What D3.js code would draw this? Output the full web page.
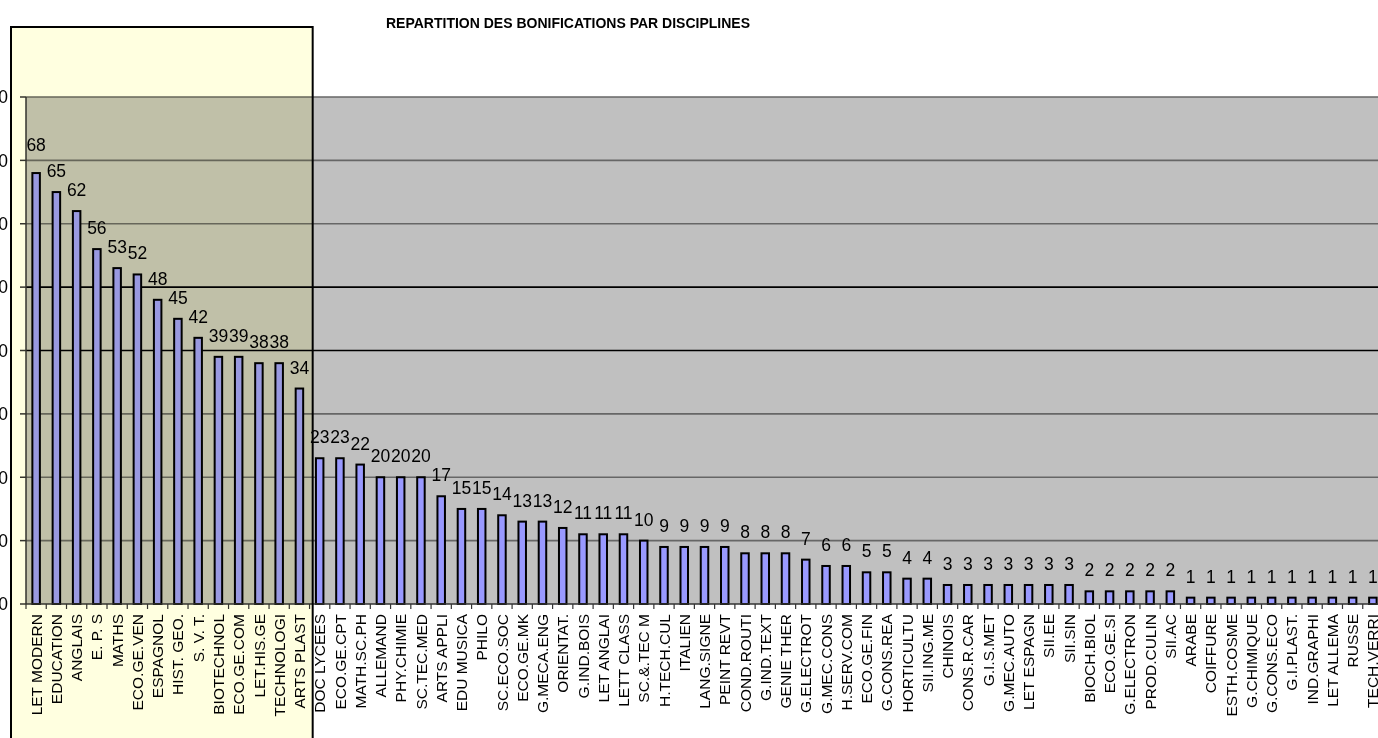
<!DOCTYPE html>
<html>
<head>
<meta charset="utf-8">
<script src="https://cdn.jsdelivr.net/npm/d3@7"></script>
<style>
  body { margin: 0; background: #fff; }
  svg { display: block; font-family: "Liberation Sans", Arial, sans-serif; }
</style>
</head>
<body>
<svg id="chart" width="1378" height="738"></svg>
<script>
"use strict";

var categories = [
  "LET MODERN", "EDUCATION", "ANGLAIS", "E. P. S", "MATHS", "ECO.GE.VEN", "ESPAGNOL",
  "HIST. GEO.", "S. V. T.", "BIOTECHNOL", "ECO.GE.COM", "LET.HIS.GE", "TECHNOLOGI",
  "ARTS PLAST", "DOC LYCEES", "ECO.GE.CPT", "MATH.SC.PH", "ALLEMAND", "PHY.CHIMIE",
  "SC.TEC.MED", "ARTS APPLI", "EDU MUSICA", "PHILO", "SC.ECO.SOC", "ECO.GE.MK",
  "G.MECA.ENG", "ORIENTAT.", "G.IND.BOIS", "LET ANGLAI", "LETT CLASS", "SC.&.TEC M",
  "H.TECH.CUL", "ITALIEN", "LANG.SIGNE", "PEINT REVT", "COND.ROUTI", "G.IND.TEXT",
  "GENIE THER", "G.ELECTROT", "G.MEC.CONS", "H.SERV.COM", "ECO.GE.FIN", "G.CONS.REA",
  "HORTICULTU", "SII.ING.ME", "CHINOIS", "CONS.R.CAR", "G.I.S.MET", "G.MEC.AUTO",
  "LET ESPAGN", "SII.EE", "SII.SIN", "BIOCH.BIOL", "ECO.GE.SI", "G.ELECTRON",
  "PROD.CULIN", "SII.AC", "ARABE", "COIFFURE", "ESTH.COSME", "G.CHIMIQUE",
  "G.CONS.ECO", "G.I.PLAST.", "IND.GRAPHI", "LET ALLEMA", "RUSSE", "TECH.VERRI"
];

var values = [
  68, 65, 62, 56, 53, 52, 48, 45, 42, 39, 39, 38, 38, 34,
  23, 23, 22, 20, 20, 20, 17, 15, 15, 14, 13, 13, 12, 11, 11, 11, 10,
  9, 9, 9, 9, 8, 8, 8, 7, 6, 6, 5, 5, 4, 4,
  3, 3, 3, 3, 3, 3, 3, 2, 2, 2, 2, 2,
  1, 1, 1, 1, 1, 1, 1, 1, 1, 1
];

var yTicks = [0, 10, 20, 30, 40, 50, 60, 70, 80];
var darkGrid = [40, 50];

var title = "REPARTITION DES BONIFICATIONS PAR DISCIPLINES";

// highlighted group: first 14 disciplines
var highlightCount = 14;

(function () {
  var svg = d3.select("#chart");
  var left = 26, right = 1383, plotTop = 97, plotBottom = 604;
  var barW = 7.5;

  var x = d3.scaleBand().domain(categories).range([left, right]).padding(0);
  var y = d3.scaleLinear().domain([0, 80]).range([plotBottom, plotTop]);
  var cx = function (c) { return x(c) + x.bandwidth() / 2; };

  // plot background
  svg.append("rect")
    .attr("x", left).attr("y", plotTop)
    .attr("width", right - left).attr("height", plotBottom - plotTop)
    .attr("fill", "#c0c0c0");

  // gridlines
  svg.append("g").selectAll("line")
    .data(yTicks.filter(function (d) { return d > 0; }))
    .enter().append("line")
      .attr("x1", left).attr("x2", right)
      .attr("y1", function (d) { return y(d); })
      .attr("y2", function (d) { return y(d); })
      .attr("stroke", function (d) { return darkGrid.indexOf(d) >= 0 ? "#000" : "#666"; })
      .attr("stroke-width", 1.6);

  // bars
  svg.append("g").selectAll("rect")
    .data(values)
    .enter().append("rect")
      .attr("x", function (d, i) { return cx(categories[i]) - barW / 2; })
      .attr("y", function (d) { return y(d); })
      .attr("width", barW)
      .attr("height", function (d) { return y(0) - y(d); })
      .attr("fill", "#9999ff")
      .attr("stroke", "#000")
      .attr("stroke-width", 2);

  // value labels
  svg.append("g").selectAll("text")
    .data(values)
    .enter().append("text")
      .attr("x", function (d, i) { return cx(categories[i]); })
      .attr("y", function (d, i) { return y(d) - (i === 0 ? 22 : 15); })
      .attr("text-anchor", "middle")
      .attr("font-size", "17.5px")
      .attr("fill", "#000")
      .text(function (d) { return d; });

  // y axis
  var yAxis = svg.append("g");
  yAxis.append("line")
    .attr("x1", left).attr("x2", left).attr("y1", plotTop).attr("y2", plotBottom)
    .attr("stroke", "#333").attr("stroke-width", 1.5);
  yAxis.selectAll("line.tick").data(yTicks).enter().append("line")
    .attr("class", "tick")
    .attr("x1", left - 6).attr("x2", left)
    .attr("y1", function (d) { return y(d); })
    .attr("y2", function (d) { return y(d); })
    .attr("stroke", "#333").attr("stroke-width", 1.5);
  yAxis.selectAll("text").data(yTicks).enter().append("text")
    .attr("x", 8)
    .attr("y", function (d) { return y(d); })
    .attr("dy", "0.36em")
    .attr("text-anchor", "end")
    .attr("font-size", "17.5px")
    .text(function (d) { return d; });

  // x axis
  var xAxis = svg.append("g");
  xAxis.append("line")
    .attr("x1", left).attr("x2", right).attr("y1", plotBottom).attr("y2", plotBottom)
    .attr("stroke", "#333").attr("stroke-width", 1.5);
  xAxis.selectAll("line.tick").data(categories.concat([null])).enter().append("line")
    .attr("class", "tick")
    .attr("x1", function (d) { return d === null ? right : x(d); })
    .attr("x2", function (d) { return d === null ? right : x(d); })
    .attr("y1", plotBottom).attr("y2", plotBottom + 5)
    .attr("stroke", "#333").attr("stroke-width", 1.2);
  xAxis.selectAll("text").data(categories).enter().append("text")
    .attr("transform", function (d) {
      return "translate(" + cx(d) + "," + (plotBottom + 10) + ") rotate(-90)";
    })
    .attr("dy", "0.36em")
    .attr("text-anchor", "end")
    .attr("font-size", "15.5px")
    .text(function (d) { return d; });

  // highlight box over the first group (multiplied so the chart shows through)
  var hx0 = 11, hx1 = cx(categories[highlightCount]) - 7;
  svg.append("rect")
    .attr("x", hx0).attr("y", 27)
    .attr("width", hx1 - hx0).attr("height", 760)
    .attr("fill", "#ffffe0")
    .attr("stroke", "#000")
    .attr("stroke-width", 2)
    .style("mix-blend-mode", "multiply");

  // title
  svg.append("text")
    .attr("x", 568).attr("y", 28)
    .attr("text-anchor", "middle")
    .attr("font-size", "14px")
    .attr("font-weight", "bold")
    .text(title);
})();
</script>
</body>
</html>
